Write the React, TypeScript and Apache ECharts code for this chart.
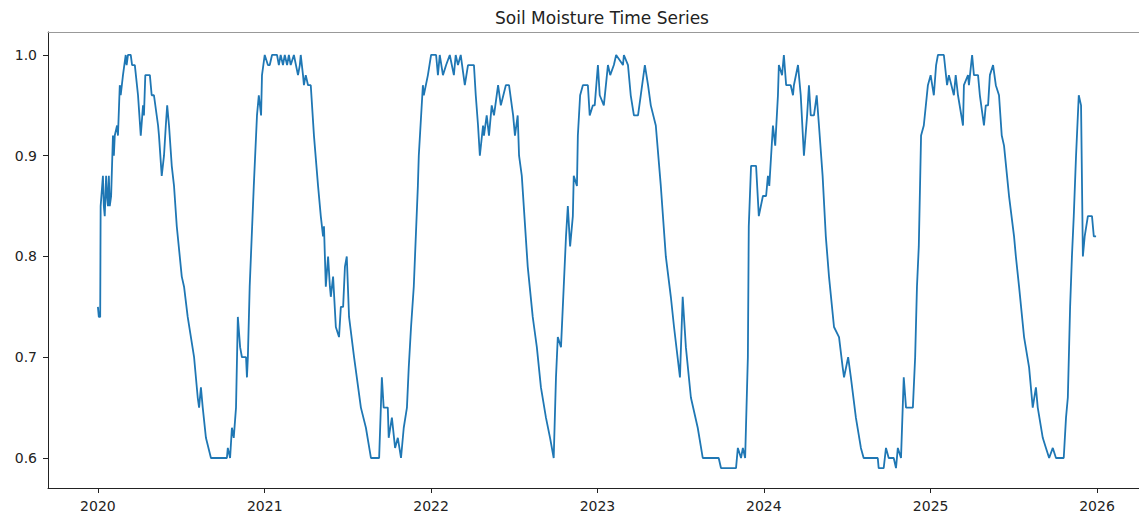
import React, { useEffect, useRef } from "react";
import * as echarts from "echarts";

// Daily soil moisture series, sampled at readable turning points.
// dayIndex = days since startDate.
const startDate = "2020-01-01";
const dayIndex = [
  0, 2, 5, 6, 11, 13, 15, 18, 20, 22, 24, 26, 29, 33, 35, 37, 42, 44, 48, 50, 55, 61, 63, 66, 72, 75, 81, 88, 94, 99,
  101, 104, 114, 118, 123, 132, 134, 140, 145, 149, 152, 156, 162, 167, 173, 184, 189, 197, 211, 219, 222, 226, 230,
  237, 248, 283, 285, 290, 294, 298, 303, 307, 312, 316, 325, 327, 329, 333, 342, 349, 353, 358, 360, 366,
  373, 377, 382, 393, 397, 401, 406, 410, 415, 419, 423, 430, 439, 443, 445, 450, 452, 456, 461, 467, 474, 483, 489,
  494, 496, 500, 505, 509, 511, 516, 522, 529, 533, 538, 542, 546, 551, 562, 577, 588, 599, 617, 623, 627, 636, 638,
  645, 652, 658, 665, 671, 678, 682, 687, 693, 702, 704, 713, 715, 724, 731,
  742, 746, 750, 757, 764, 772, 781, 785, 790, 796, 805, 812, 825, 829, 834, 838, 845, 847, 853, 858, 864, 869, 878,
  884, 895, 902, 911, 915, 921, 924, 930, 943, 954, 957, 963, 972, 983, 992, 1000, 1005, 1009, 1016, 1022, 1027, 1031,
  1036, 1042, 1044, 1051, 1053, 1058, 1064, 1075, 1079, 1086, 1090, 1097, 1101,
  1110, 1119, 1124, 1132, 1137, 1152, 1154, 1163, 1169, 1176, 1185, 1191, 1200, 1207, 1213, 1224, 1235, 1246, 1257,
  1264, 1277, 1283, 1290, 1301, 1316, 1327, 1362, 1367, 1400, 1404, 1411, 1415, 1420, 1426, 1428, 1433, 1444, 1450,
  1459, 1466, 1470,
  1473, 1481, 1486, 1492, 1494, 1501, 1505, 1510, 1520, 1525, 1527, 1536, 1542, 1549, 1556, 1560, 1564, 1571, 1577,
  1582, 1590, 1597, 1604, 1615, 1626, 1634, 1637, 1646, 1652, 1663, 1674, 1680, 1711, 1713, 1724, 1729, 1735, 1746,
  1751, 1755, 1762, 1768, 1773, 1788, 1793, 1797, 1801, 1806, 1812, 1821, 1827, 1834, 1839, 1843,
  1856, 1863, 1867, 1878, 1882, 1887, 1898, 1900, 1909, 1911, 1918, 1922, 1931, 1935, 1944, 1948, 1953, 1957, 1964,
  1970, 1977, 1983, 1988, 1999, 2010, 2014, 2021, 2032, 2043, 2051, 2058, 2062, 2073, 2080, 2087, 2095, 2102, 2119,
  2124, 2128, 2133, 2137, 2141, 2146, 2152, 2157, 2161, 2165, 2172, 2181, 2185, 2190,
];
const moisture = [
  0.75, 0.74, 0.74, 0.85, 0.88, 0.85, 0.84, 0.88, 0.86, 0.85, 0.88, 0.85, 0.86, 0.92, 0.9, 0.92, 0.93, 0.92, 0.97, 0.96,
  0.98, 1.0, 0.99, 1.0, 1.0, 0.99, 0.99, 0.96, 0.92, 0.95,
  0.94, 0.98, 0.98, 0.96, 0.96, 0.93, 0.92, 0.88, 0.9, 0.93, 0.95, 0.93, 0.89, 0.87, 0.83, 0.78, 0.77, 0.74, 0.7, 0.66,
  0.65, 0.67, 0.65, 0.62, 0.6, 0.6, 0.61, 0.6, 0.63, 0.62, 0.65, 0.74, 0.71, 0.7, 0.7, 0.68, 0.7, 0.77, 0.87, 0.94,
  0.96, 0.94, 0.98, 1.0,
  0.99, 0.99, 1.0, 1.0, 0.99, 1.0, 0.99, 1.0, 0.99, 1.0, 0.99, 1.0, 0.98, 0.99, 1.0, 0.98, 0.97, 0.98, 0.97, 0.97,
  0.92, 0.87, 0.84, 0.82, 0.83, 0.77, 0.8, 0.77, 0.76, 0.78, 0.73, 0.72, 0.75, 0.75, 0.79, 0.8, 0.74, 0.7, 0.65, 0.63,
  0.6, 0.6, 0.68, 0.65, 0.65, 0.62, 0.64, 0.61, 0.62, 0.6, 0.63, 0.65, 0.69, 0.73, 0.77, 0.87, 0.9, 0.97, 0.96, 0.98,
  1.0,
  1.0, 0.98, 1.0, 0.98, 0.99, 1.0, 0.98, 1.0, 0.99, 1.0, 0.97, 0.99, 0.99, 0.96, 0.93, 0.9, 0.93, 0.92, 0.94, 0.92,
  0.95, 0.94, 0.97, 0.95, 0.97, 0.97, 0.94, 0.92, 0.94, 0.9, 0.88, 0.79, 0.74, 0.73, 0.71, 0.67, 0.64, 0.62, 0.6, 0.68,
  0.72, 0.71, 0.77, 0.82, 0.85, 0.81, 0.84, 0.88, 0.87, 0.92, 0.96, 0.97, 0.97, 0.94, 0.95, 0.95, 0.99, 0.96,
  0.95, 0.99, 0.98, 0.99, 1.0, 0.99, 1.0, 0.99, 0.96, 0.94, 0.94, 0.96, 0.99, 0.97, 0.95, 0.93, 0.87, 0.8, 0.76, 0.73,
  0.68, 0.76, 0.71, 0.66, 0.63, 0.6, 0.6, 0.59, 0.59, 0.61, 0.6, 0.61, 0.6, 0.7, 0.83, 0.89, 0.89, 0.84, 0.86, 0.86,
  0.88,
  0.87, 0.93, 0.91, 0.96, 0.99, 0.98, 1.0, 0.97, 0.97, 0.96, 0.97, 0.99, 0.96, 0.9, 0.94, 0.97, 0.94, 0.94, 0.96, 0.93,
  0.88, 0.82, 0.78, 0.73, 0.72, 0.69, 0.68, 0.7, 0.68, 0.64, 0.61, 0.6, 0.6, 0.59, 0.59, 0.61, 0.6, 0.6, 0.59, 0.61,
  0.6, 0.68, 0.65, 0.65, 0.7, 0.77, 0.81, 0.92, 0.93, 0.97, 0.98, 0.96, 0.99, 1.0,
  1.0, 0.97, 0.98, 0.96, 0.98, 0.96, 0.93, 0.97, 0.98, 0.97, 1.0, 0.98, 0.98, 0.96, 0.93, 0.95, 0.95, 0.98, 0.99, 0.97,
  0.96, 0.92, 0.91, 0.86, 0.82, 0.8, 0.77, 0.72, 0.69, 0.65, 0.67, 0.65, 0.62, 0.61, 0.6, 0.61, 0.6, 0.6, 0.64, 0.66,
  0.75, 0.8, 0.84, 0.9, 0.96, 0.95, 0.8, 0.82, 0.84, 0.84, 0.82, 0.82,
];

const yTicks = [0.6, 0.7, 0.8, 0.9, 1.0];
const yRange = [0.5702, 1.0228];
const xTickYears = [2020, 2021, 2022, 2023, 2024, 2025, 2026];
const title = "Soil Moisture Time Series";

const DAY = 86400000;

export default function App() {
  const ref = useRef<HTMLDivElement>(null);

  useEffect(() => {
    if (!ref.current) return;
    const chart = echarts.init(ref.current, null, { renderer: "svg" });
    const t0 = Date.parse(startDate + "T00:00:00Z");
    const data = dayIndex.map((d, i) => [t0 + d * DAY, moisture[i]]);
    const firstT = t0 + dayIndex[0] * DAY;
    const lastT = t0 + dayIndex[dayIndex.length - 1] * DAY;
    const padX = (lastT - firstT) * 0.05;
    const yearTicks = xTickYears.map((y) => Date.UTC(y, 0, 1));
    const font = "DejaVu Sans";

    chart.setOption({
      animation: false,
      title: {
        text: title,
        left: 597,
        textAlign: "center",
        top: 4,
        textStyle: { fontFamily: font, fontSize: 17, fontWeight: "normal", color: "#222" },
      },
      grid: { left: 48, top: 32, right: 0, bottom: 29, containLabel: false },
      xAxis: [
        {
          type: "value",
          min: firstT - padX,
          max: lastT + padX,
          scale: true,
          splitLine: { show: false },
          axisLine: { show: true, lineStyle: { color: "#222", width: 1 } },
          axisTick: { show: true, inside: false, length: 5, lineStyle: { color: "#222" }, customValues: yearTicks },
          axisLabel: {
            show: true,
            margin: 11,
            fontFamily: font,
            fontSize: 14,
            color: "#222",
            customValues: yearTicks,
            formatter: (v: number) => String(new Date(v).getUTCFullYear()),
          },
        },
        {
          type: "value",
          position: "top",
          min: firstT - padX,
          max: lastT + padX,
          scale: true,
          splitLine: { show: false },
          axisLine: { show: true, lineStyle: { color: "#999", width: 1 } },
          axisTick: { show: false },
          axisLabel: { show: false },
        },
      ],
      yAxis: {
        type: "value",
        min: yRange[0],
        max: yRange[1],
        scale: true,
        splitLine: { show: false },
        axisLine: { show: true, lineStyle: { color: "#222", width: 1 } },
        axisTick: { show: true, inside: false, length: 5, lineStyle: { color: "#222" }, customValues: yTicks },
        axisLabel: {
          show: true,
          margin: 11,
          fontFamily: font,
          fontSize: 14,
          color: "#222",
          customValues: yTicks,
          formatter: (v: number) => v.toFixed(1),
        },
      },
      series: [
        {
          type: "line",
          data,
          xAxisIndex: 0,
          showSymbol: false,
          symbol: "none",
          lineStyle: { color: "#1f77b4", width: 1.8 },
        },
      ],
    });
    return () => chart.dispose();
  }, []);

  return (
    <div
      ref={ref}
      style={{ position: "fixed", left: 0, top: 0, width: 1146, height: 517, background: "#fff" }}
    />
  );
}
